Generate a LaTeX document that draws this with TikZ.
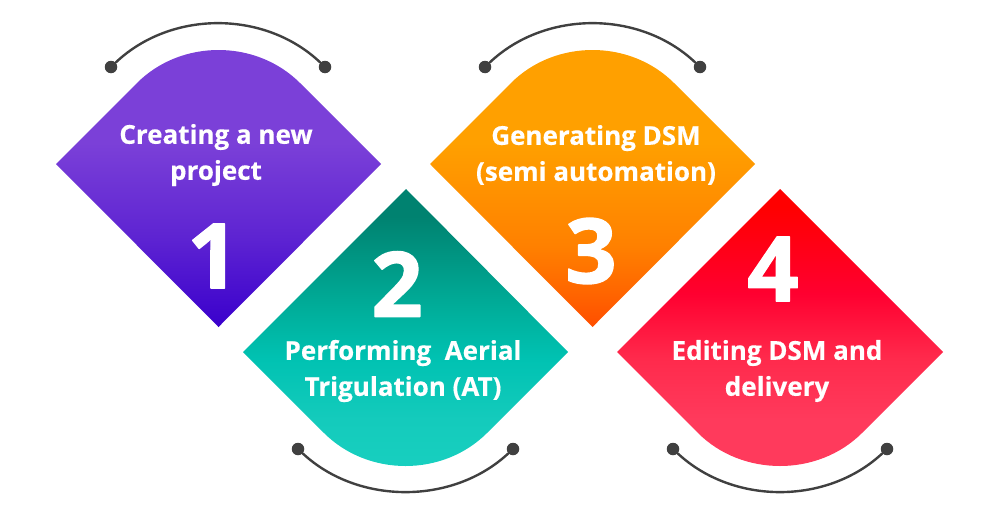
\documentclass[tikz,border=0pt]{standalone}
\usepackage{fontspec}
\setmainfont{Open Sans}
\definecolor{arcgray}{HTML}{404040}
\definecolor{violet1}{HTML}{7B40D8}
\definecolor{violet2}{HTML}{5E24D2}
\definecolor{violet3}{HTML}{3A00CC}
\definecolor{teal1}{HTML}{008270}
\definecolor{teal2}{HTML}{00AC98}
\definecolor{teal3}{HTML}{00C2B2}
\definecolor{teal4}{HTML}{14CBBC}
\definecolor{teal5}{HTML}{18D0C0}
\definecolor{orange1}{HTML}{FFA000}
\definecolor{orange2}{HTML}{FF8000}
\definecolor{orange3}{HTML}{FF6800}
\definecolor{orange4}{HTML}{FF4E00}
\definecolor{red1}{HTML}{FF0000}
\definecolor{red2}{HTML}{FF0030}
\definecolor{red3}{HTML}{FF2A4C}
\definecolor{red4}{HTML}{FF3A5C}
% stops: the picture's box runs from 25bp to 75bp
\pgfdeclareverticalshading{purpleshade}{100bp}{color(0bp)=(violet3); color(25bp)=(violet3); color(40.7bp)=(violet2); color(57bp)=(violet1); color(100bp)=(violet1)}
\pgfdeclareverticalshading{tealshade}{100bp}{color(0bp)=(teal5); color(25bp)=(teal5); color(35bp)=(teal4); color(45.6bp)=(teal3); color(55bp)=(teal2); color(70.3bp)=(teal1); color(100bp)=(teal1)}
\pgfdeclareverticalshading{orangeshade}{100bp}{color(0bp)=(orange4); color(25bp)=(orange4); color(31.7bp)=(orange3); color(38.9bp)=(orange2); color(57bp)=(orange1); color(100bp)=(orange1)}
\pgfdeclareverticalshading{redshade}{100bp}{color(0bp)=(red4); color(35bp)=(red4); color(45.6bp)=(red3); color(56.8bp)=(red2); color(72bp)=(red1); color(100bp)=(red1)}
\begin{document}
\begin{tikzpicture}[x=1pt,y=-1pt,line join=round,line cap=round,
  steptext/.style={text=white,font=\bfseries\fontsize{26}{36}\selectfont\addfontfeature{FakeBold=0.4},align=center},
  stepnum/.style={text=white,font=\bfseries\fontsize{90}{90}\selectfont\addfontfeature{FakeBold=1.5}},
  enddot/.style={circle,fill=arcgray,inner sep=0pt,minimum size=12.5pt},
  arcline/.style={draw=arcgray,line width=2.4pt}]
\useasboundingbox (0,0) rectangle (1000,530);
% diamonds
\shade[shading=purpleshade] (56,164)--(137,83) .. controls (181,39) and (256,39) .. (300,83)--(381,164)--(218.5,327)--cycle;
\shade[shading=tealshade] (406,189)--(568,352)--(487,433) .. controls (443,477) and (368,477) .. (324,433)--(243,352)--cycle;
\shade[shading=orangeshade] (430,164)--(511,83) .. controls (555,39) and (630,39) .. (674,83)--(755,164)--(592.5,327)--cycle;
\shade[shading=redshade] (780,189)--(943,352)--(862,433) .. controls (818,477) and (742,477) .. (698,433)--(617,352)--cycle;
% arcs
\node[enddot] (a1) at (111,67) {};  \node[enddot] (b1) at (325,67) {};
\node[enddot] (a2) at (298,449) {}; \node[enddot] (b2) at (513,449) {};
\node[enddot] (a3) at (485,67) {};  \node[enddot] (b3) at (700,67) {};
\node[enddot] (a4) at (673,449) {}; \node[enddot] (b4) at (887,449) {};
\draw[arcline] (a1) .. controls (171,10) and (265,10) .. (b1);
\draw[arcline] (a2) .. controls (358,505) and (453,505) .. (b2);
\draw[arcline] (a3) .. controls (545,10) and (640,10) .. (b3);
\draw[arcline] (a4) .. controls (733,505) and (827,505) .. (b4);
% labels
\node[steptext] (t1) at (216,155) {Creating a new\\project};
\node[steptext] (t2) at (403,371) {Performing\ \ Aerial\\Trigulation (AT)};
\node[steptext] (t3) at (596,155) {Generating DSM\\(semi automation)};
\node[steptext] (t4) at (777,371) {Editing DSM and\\delivery};
\node[stepnum] (n1) at (213,256) {1};
\node[stepnum] (n2) at (397,284) {2};
\node[stepnum] (n3) at (591,251) {3};
\node[stepnum] (n4) at (773,269) {4};
\end{tikzpicture}
\end{document}
